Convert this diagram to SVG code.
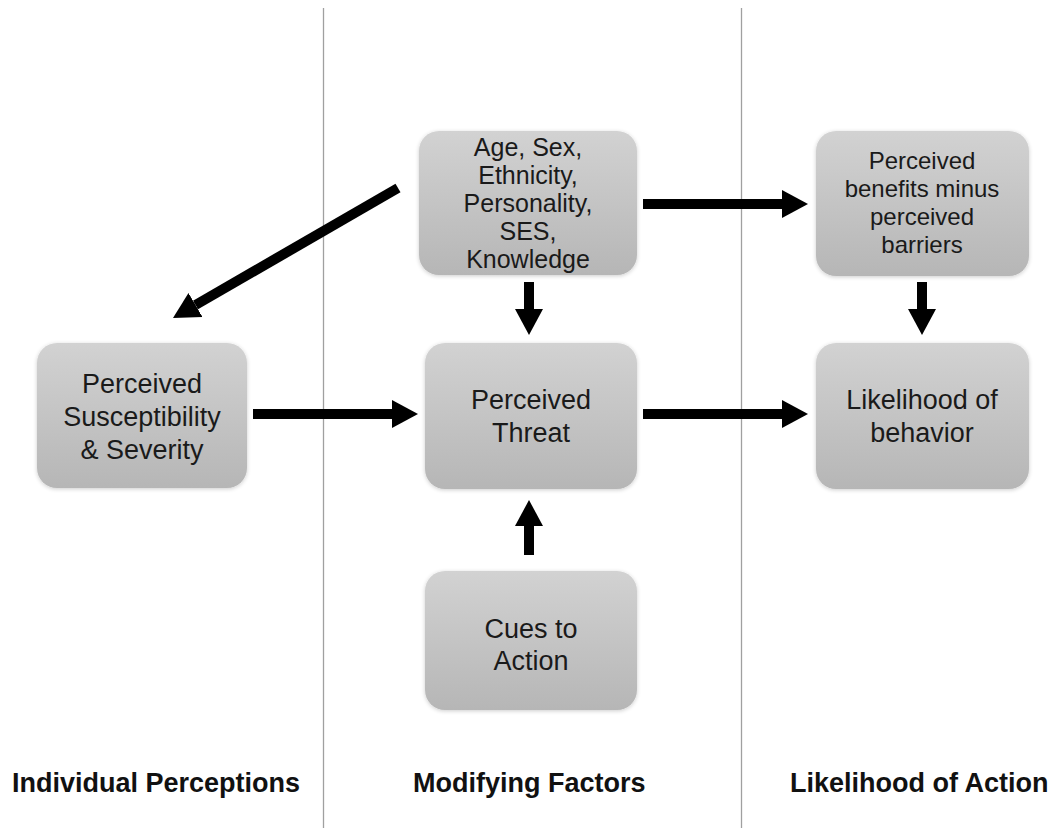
<svg xmlns="http://www.w3.org/2000/svg" width="1057" height="828" viewBox="0 0 1057 828">
  <style>
    .box { fill: url(#boxFill); filter: url(#soft); }
    .lbl { font-family: "Liberation Sans", Arial, sans-serif; fill: #1a1a1a; text-anchor: middle; }
    .big { font-size: 27px; }
    .mid { font-size: 24px; }
    .small { font-size: 25px; }
    .head { font-family: "Liberation Sans", Arial, sans-serif; font-weight: bold; font-size: 27px; fill: #111; }
    .divider { stroke: #a0a0a0; stroke-width: 1.3; }
    .arrow { stroke: #000; stroke-width: 10; fill: none; marker-end: url(#tip); }
  </style>
  <defs>
    <linearGradient id="boxFill" x1="0" y1="0" x2="0" y2="1">
      <stop offset="0" stop-color="#d2d2d2"/>
      <stop offset="1" stop-color="#b6b6b6"/>
    </linearGradient>
    <filter id="soft" x="-10%" y="-10%" width="120%" height="120%">
      <feGaussianBlur in="SourceAlpha" stdDeviation="2"/>
      <feOffset dx="0" dy="1" result="b"/>
      <feComponentTransfer><feFuncA type="linear" slope="0.2"/></feComponentTransfer>
      <feMerge><feMergeNode/><feMergeNode in="SourceGraphic"/></feMerge>
    </filter>
    <marker id="tip" markerUnits="userSpaceOnUse" markerWidth="28" markerHeight="30" refX="0" refY="14" orient="auto" viewBox="0 0 28 28">
      <path d="M0,0 L26,14 L0,28 Z" fill="#000"/>
    </marker>
  </defs>

  <rect width="1057" height="828" fill="#fff"/>

  <!-- column dividers -->
  <g id="dividers">
    <line class="divider" x1="323.5" y1="8" x2="323.5" y2="828"/>
    <line class="divider" x1="741.5" y1="8" x2="741.5" y2="828"/>
  </g>

  <g id="modifiers">
    <rect class="box" x="419" y="131" width="218" height="144" rx="20"/>
    <text class="lbl small" x="528" y="156">Age,  Sex,</text>
    <text class="lbl small" x="528" y="184">Ethnicity,</text>
    <text class="lbl small" x="528" y="212">Personality,</text>
    <text class="lbl small" x="528" y="240">SES,</text>
    <text class="lbl small" x="528" y="268">Knowledge</text>
  </g>

  <g id="benefits">
    <rect class="box" x="816" y="131" width="213" height="145" rx="20"/>
    <text class="lbl mid" x="922" y="169">Perceived</text>
    <text class="lbl mid" x="922" y="197">benefits minus</text>
    <text class="lbl mid" x="922" y="225">perceived</text>
    <text class="lbl mid" x="922" y="253">barriers</text>
  </g>

  <g id="susceptibility">
    <rect class="box" x="37" y="343" width="210" height="145" rx="20"/>
    <text class="lbl big" x="142" y="393">Perceived</text>
    <text class="lbl big" x="142" y="426">Susceptibility</text>
    <text class="lbl big" x="142" y="459">&amp; Severity</text>
  </g>

  <g id="threat">
    <rect class="box" x="425" y="343" width="212" height="146" rx="20"/>
    <text class="lbl big" x="531" y="409">Perceived</text>
    <text class="lbl big" x="531" y="442">Threat</text>
  </g>

  <g id="likelihood">
    <rect class="box" x="816" y="343" width="213" height="146" rx="20"/>
    <text class="lbl big" x="922" y="409">Likelihood of</text>
    <text class="lbl big" x="922" y="442">behavior</text>
  </g>

  <g id="cues">
    <rect class="box" x="425" y="571" width="212" height="139" rx="20"/>
    <text class="lbl big" x="531" y="638">Cues to</text>
    <text class="lbl big" x="531" y="670">Action</text>
  </g>

  <g id="connectors">
    <line class="arrow" x1="398" y1="188" x2="195.5" y2="305"/>
    <line class="arrow" x1="643" y1="204" x2="782" y2="204"/>
    <line class="arrow" x1="529" y1="282" x2="529" y2="309"/>
    <line class="arrow" x1="922" y1="282" x2="922" y2="309"/>
    <line class="arrow" x1="253" y1="414" x2="392" y2="414"/>
    <line class="arrow" x1="643" y1="414" x2="782" y2="414"/>
    <line class="arrow" x1="529" y1="555" x2="529" y2="526"/>
  </g>

  <g id="column-titles">
    <text class="head" x="12" y="792">Individual Perceptions</text>
    <text class="head" x="413" y="792">Modifying Factors</text>
    <text class="head" x="790" y="792">Likelihood of Action</text>
  </g>
</svg>
